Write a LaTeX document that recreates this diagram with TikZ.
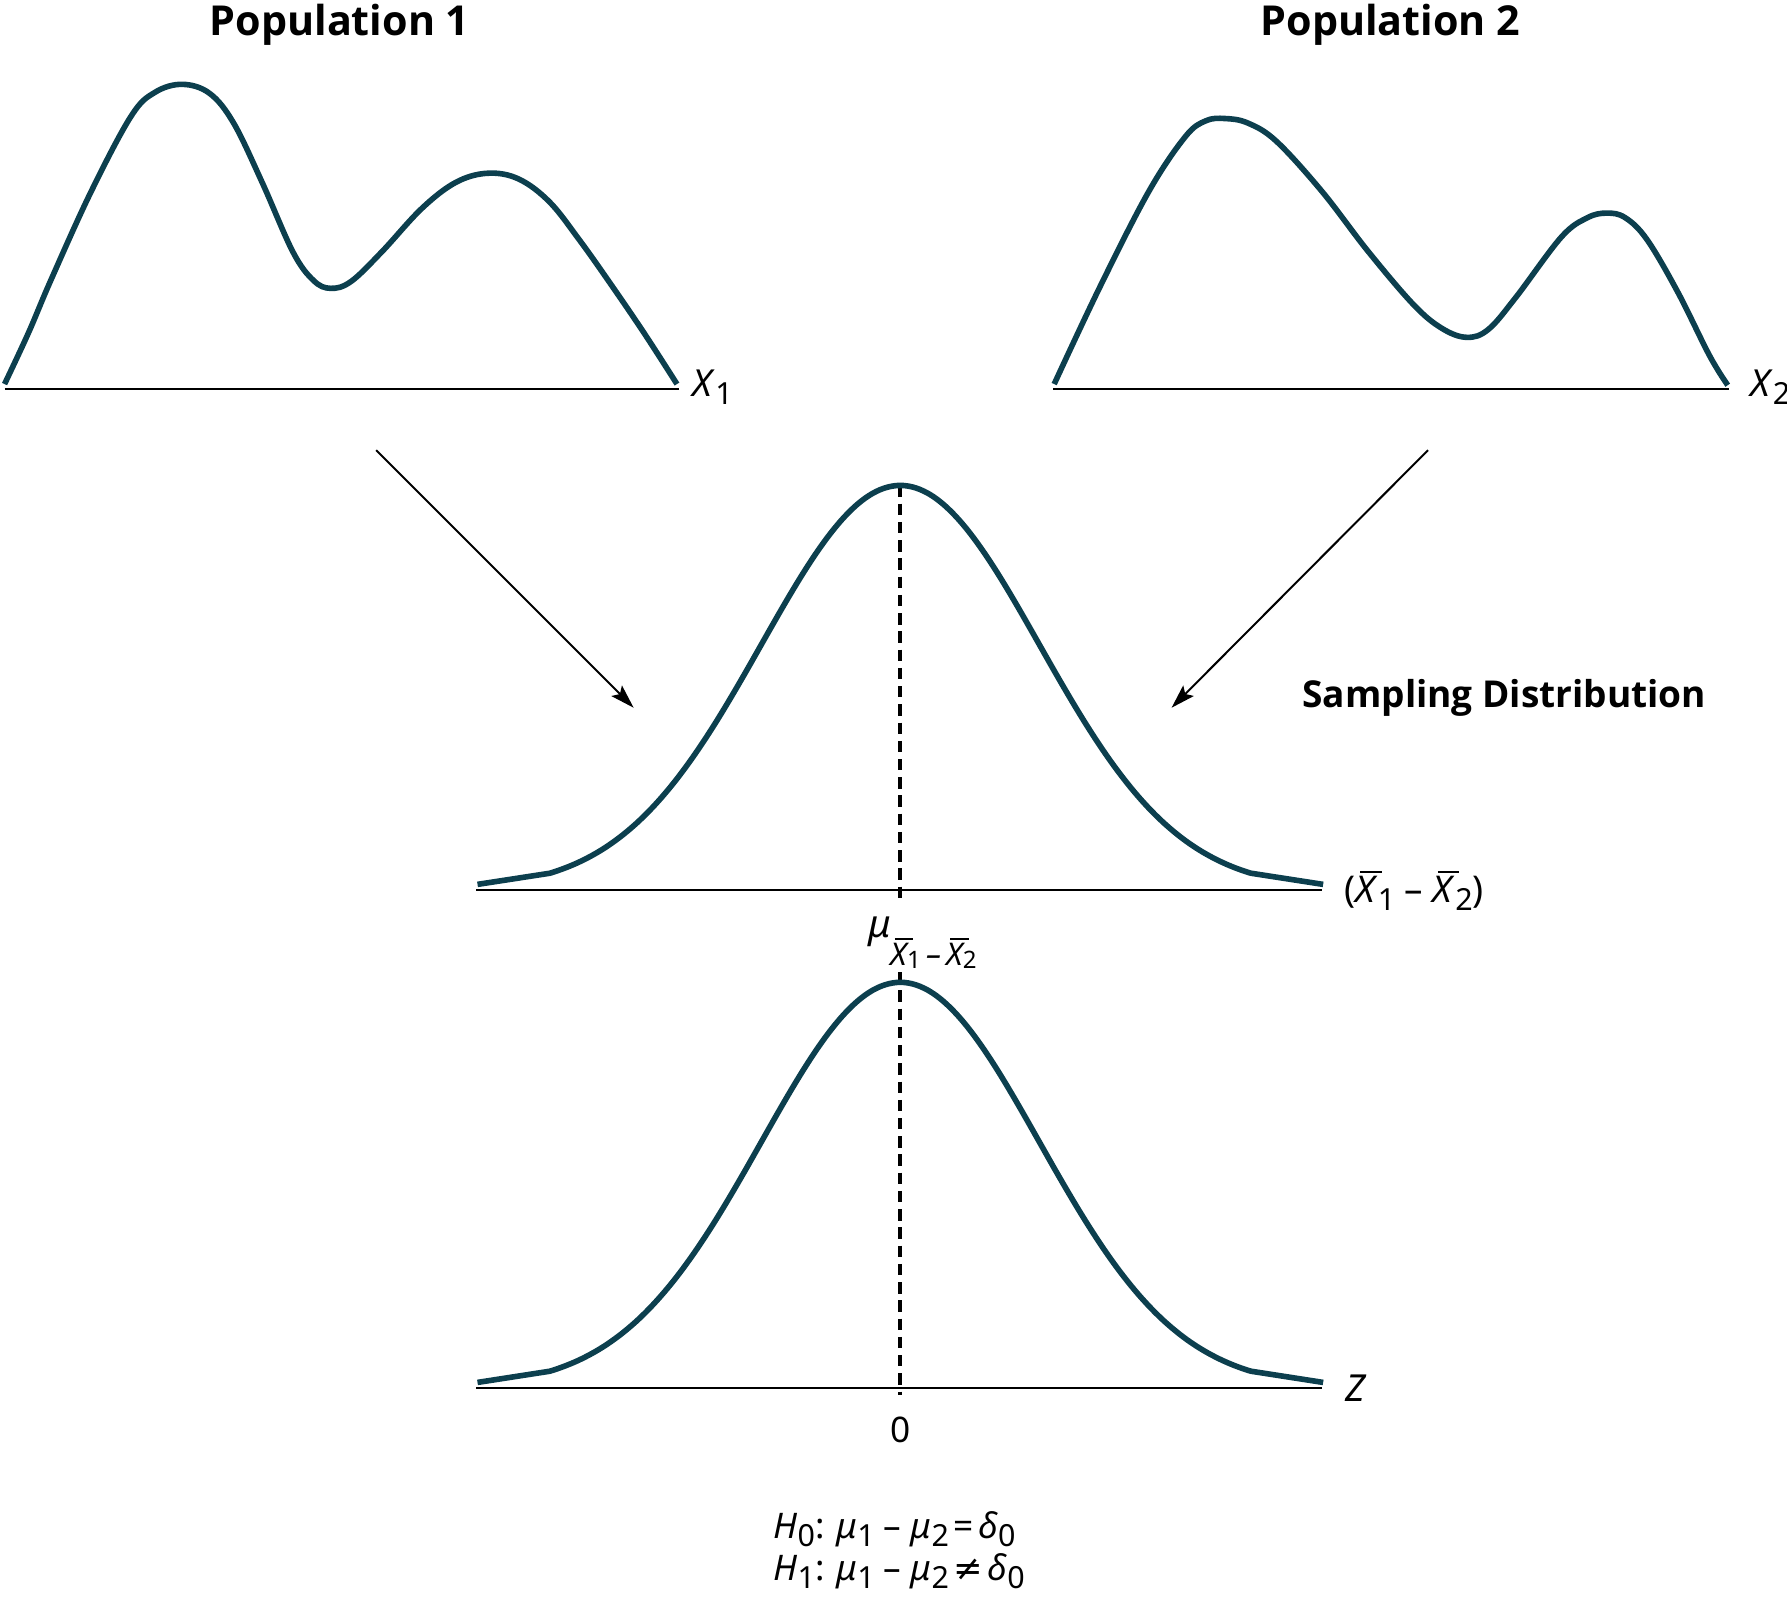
\documentclass[tikz,border=0pt]{standalone}
\usepackage{fontspec}
\setmainfont{Noto Sans}
\newfontfamily\titlefam{Open Sans}
\newfontfamily\djv{DejaVu Sans}
\usetikzlibrary{arrows.meta}
\definecolor{curvecol}{HTML}{0C3F4E}
\newcommand{\Xb}{\makebox[0pt][l]{\hspace{0.13em}\rule[0.80em]{0.58em}{0.07em}}\textit{X}}
\newcommand{\sbx}[1]{\raisebox{-0.7mm}{\fontsize{7.6}{8}\selectfont\upshape #1}}
\newcommand{\ssbx}[1]{\raisebox{-0.25mm}{\fontsize{6}{7}\selectfont\upshape #1}}
\begin{document}
\begin{tikzpicture}[x=0.1mm,y=-0.1mm,
  curve/.style={draw=curvecol,line width=1.4pt,line join=round},
  axis/.style={draw=black,line width=0.5pt},
  dashln/.style={draw=black,line width=0.95pt,dash pattern=on 1mm off 0.6mm},
  arr/.style={draw=black,line width=0.5pt,-{Stealth[length=2.1mm,width=1.3mm,inset=0.4mm]}},
  title/.style={font=\fontsize{10.3}{12}\titlefam\bfseries,inner sep=0},
  lbl/.style={font=\fontsize{9.3}{11}\selectfont,inner sep=0},
  hyp/.style={font=\fontsize{8.8}{10}\selectfont,inner sep=0}]
\useasboundingbox (0,0) rectangle (1568,1416);

% titles
\node[title,anchor=base] (pop1) at (298,31) {Population 1};
\node[title,anchor=base] (pop2) at (1220,31) {Population 2};
\node[title,anchor=base,font=\fontsize{9.25}{10}\titlefam\bfseries] (samp) at (1320,621) {Sampling Distribution};

% population 1
\coordinate (b1l) at (4,341);
\coordinate (b1r) at (596,341);
\draw[axis] (b1l) -- (b1r);
\draw[curve] plot[smooth,tension=0.6] coordinates {(4,337) (25,292) (45,245) (80,168) (115,102) (136,81) (160,74) (184,82) (205,108) (230,160) (257,221) (275,246) (290,253) (308,247) (335,221) (370,183) (400,160) (428,152) (455,157) (482,177) (508,210) (535,248) (565,292) (594,337)};
\node[lbl,anchor=base west] (x1) at (607,348) {\textit{X}\sbx{1}};

% population 2
\coordinate (b2l) at (924,341);
\coordinate (b2r) at (1517,341);
\draw[axis] (b2l) -- (b2r);
\draw[curve] plot[smooth,tension=0.6] coordinates {(925,337) (965,252) (1008,168) (1040,120) (1058,106) (1075,104) (1095,108) (1120,124) (1160,168) (1200,220) (1240,267) (1265,288) (1287,296) (1306,289) (1330,261) (1370,208) (1393,191) (1410,187) (1426,191) (1445,210) (1472,256) (1500,312) (1516,338)};
\node[lbl,anchor=base west] (x2) at (1535,348) {\textit{X}\sbx{2}};

% arrows
\coordinate (a1s) at (330,395);
\coordinate (a1e) at (556,621);
\draw[arr] (a1s) -- (a1e);
\coordinate (a2s) at (1253,395);
\coordinate (a2e) at (1028,621);
\draw[arr] (a2s) -- (a2e);

% sampling distribution
\coordinate (m1top) at (790,426);
\coordinate (m1bot) at (790,788);
\draw[dashln] (m1top) -- (m1bot);
\coordinate (b3l) at (418,781);
\coordinate (b3r) at (1160,781);
\draw[axis] (b3l) -- (b3r);
\draw[curve] (419,776) -- plot[domain=-2.52:2.52,samples=90,smooth] ({790+122*\x},{781-355*exp(-\x*\x/2)}) -- (1161,776);
\node[lbl,anchor=base west,font=\fontsize{9.2}{11}\selectfont] (xdiff) at (1179,792) {(\Xb\sbx{1} – \Xb\sbx{2})};
\node[anchor=base west,inner sep=0] (mulab) at (761,823) {\fontsize{9.6}{10}\selectfont\itshape μ\raisebox{-2.4mm}{\fontsize{7.8}{8}\selectfont\Xb\ssbx{1}\,–\,\Xb\ssbx{2}}};

% standard normal
\coordinate (m2top) at (790,853);
\coordinate (m2bot) at (790,1224);
\draw[dashln] (m2top) -- (m2bot);
\coordinate (b4l) at (418,1218);
\coordinate (b4r) at (1160,1218);
\draw[axis] (b4l) -- (b4r);
\draw[curve] (419,1213) -- plot[domain=-2.52:2.52,samples=90,smooth] ({790+122*\x},{1218-356*exp(-\x*\x/2)}) -- (1161,1213);
\node[lbl,anchor=base west] (zlab) at (1180,1230) {\textit{Z}};
\node[hyp,anchor=base] (zero) at (790,1266) {0};

% hypotheses
\node[hyp,anchor=base west] (h0) at (678,1350) {\textit{H}\sbx{0}: \textit{μ}\sbx{1} – \textit{μ}\sbx{2}\kern0.12em=\kern0.14em \textit{δ}\sbx{0}};
\node[hyp,anchor=base west] (h1) at (678,1387) {\textit{H}\sbx{1}: \textit{μ}\sbx{1} – \textit{μ}\sbx{2}\kern0.12em{\djv ≠}\kern0.14em \textit{δ}\sbx{0}};
\end{tikzpicture}
\end{document}
